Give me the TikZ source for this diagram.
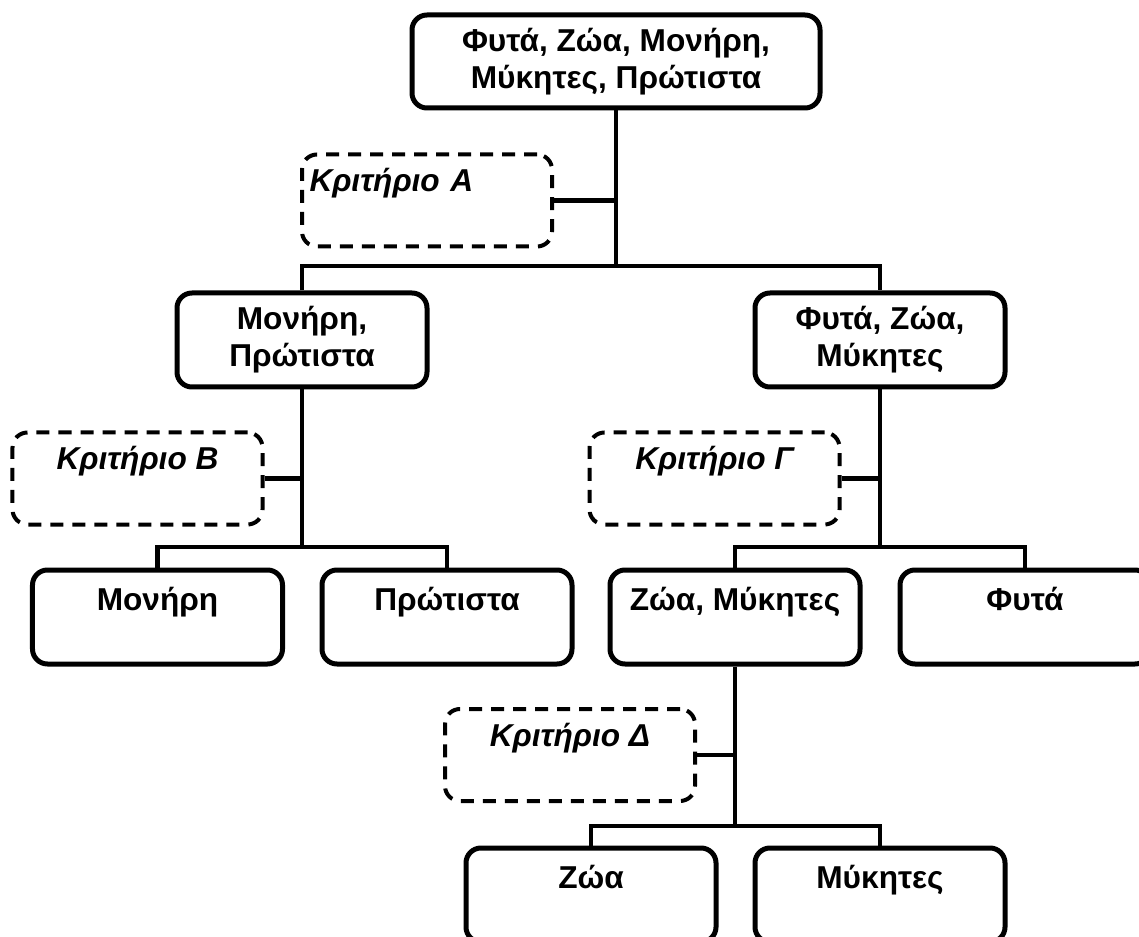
\documentclass[tikz,border=0pt]{standalone}
\usepackage{fontspec}
\setmainfont{Liberation Sans}
\usepackage{tikz}
\usetikzlibrary{positioning}

\begin{document}
\begin{tikzpicture}[
    x=0.2mm, y=-0.2mm,
    group/.style={draw, line width=1mm, rounded corners=3mm, minimum width=50mm, minimum height=18.8mm, inner sep=0pt, align=center, font=\fontsize{18}{21}\selectfont\bfseries},
    leaf/.style={draw, line width=1mm, rounded corners=3mm, minimum width=50mm, inner sep=0pt, text height=8mm, text depth=10.8mm, font=\fontsize{18}{21}\selectfont\bfseries},
    crit/.style={draw, line width=0.8mm, dash pattern=on 2.6mm off 1.8mm, rounded corners=3mm, minimum width=50mm, inner sep=0pt, text height=7.4mm, text depth=11mm, font=\fontsize{18}{21}\selectfont\bfseries\itshape},
    link/.style={line width=0.9mm},
]
% Frame of the picture
\clip (0,0) rectangle (1139,937);

% Groups with two lines
\node[group, minimum width=81.6mm, minimum height=18.6mm] (all) at (616,61.5) {Φυτά, Ζώα, Μονήρη,\\Μύκητες, Πρώτιστα};
\node[group] (monpro) at (302,340) {Μονήρη,\\Πρώτιστα};
\node[group] (fzm) at (880,340) {Φυτά, Ζώα,\\Μύκητες};

% Criteria (dashed)
\node[crit, text width=47mm, align=left] (kritA) at (427,200.5) {Κριτήριο Α};
\node[crit] (kritB) at (137.5,478.5) {Κριτήριο Β};
\node[crit] (kritG) at (714.5,478.5) {Κριτήριο Γ};
\node[crit] (kritD) at (570,755) {Κριτήριο Δ};

% Lower boxes
\node[leaf] (mon) at (157.5,617) {Μονήρη};
\node[leaf] (pro) at (447,617) {Πρώτιστα};
\node[leaf] (zm) at (735,617) {Ζώα, Μύκητες};
\node[leaf] (fyta) at (1025,617) {Φυτά};
\node[leaf] (zoa) at (591,895) {Ζώα};
\node[leaf] (myk) at (880,895) {Μύκητες};

% Branch points
\coordinate (b1) at (616,266);
\coordinate (b2) at (302,547);
\coordinate (b3) at (880,547);
\coordinate (b4) at (735,826);

% Connecting lines
\draw[link] (all) -- (b1);
\draw[link] (monpro.north) |- (b1) -| (fzm.north);
\draw[link] (kritA.east) -- (kritA.east -| b1);

\draw[link] (monpro) -- (b2);
\draw[link] (mon.north) |- (b2) -| (pro.north);
\draw[link] (kritB.east) -- (kritB.east -| b2);

\draw[link] (fzm) -- (b3);
\draw[link] (zm.north) |- (b3) -| (fyta.north);
\draw[link] (kritG.east) -- (kritG.east -| b3);

\draw[link] (zm) -- (b4);
\draw[link] (zoa.north) |- (b4) -| (myk.north);
\draw[link] (kritD.east) -- (kritD.east -| b4);

\end{tikzpicture}
\end{document}
